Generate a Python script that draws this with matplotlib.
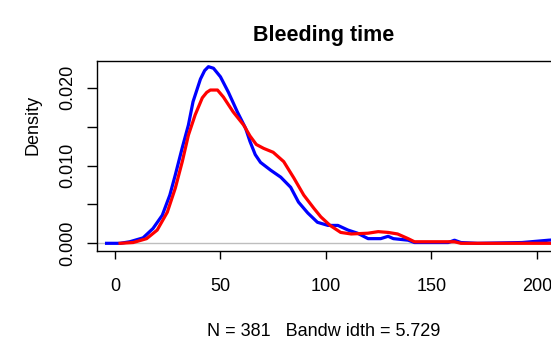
import matplotlib
matplotlib.use("Agg")
import matplotlib.pyplot as plt

# density estimates
blue_x = [-4, 2.4, 7, 13.3, 18, 22.4, 26, 28.6, 31.9, 34.8, 37, 40.5, 42.5, 44.3,
          46.7, 50, 53.8, 58, 61.9, 64, 66.5, 69, 73.8, 78.6, 83.3, 87, 91.4, 96,
          101, 105.7, 110.5, 115, 120, 126, 129.5, 132, 139, 142, 158, 161, 164,
          172, 193, 205.7, 212]
blue_y = [0, 0, 0.0002, 0.0007, 0.0019, 0.0036, 0.0062, 0.0088, 0.0123, 0.0152,
          0.0182, 0.0211, 0.0222, 0.0227, 0.0225, 0.0214, 0.0194, 0.0169, 0.0148,
          0.0131, 0.0114, 0.0104, 0.0094, 0.0085, 0.0072, 0.0053, 0.0039, 0.0027,
          0.0023, 0.0023, 0.0017, 0.0013, 0.0006, 0.0006, 0.0009, 0.0006, 0.0004,
          0.0001, 0.0001, 0.0004, 0.0001, 0.0, 0.0001, 0.0004, 0.0005]

red_x = [2.4, 8.6, 15, 20, 24.8, 28.6, 31.9, 34.8, 38, 41.4, 43.5, 45.2, 48.6,
         51.4, 56, 61, 64, 67, 70.5, 75, 80, 84.8, 89.5, 94.3, 97.6, 102, 107,
         112, 120, 124.8, 129.5, 134, 139, 142, 161, 164, 215]
red_y = [0, 0.0001, 0.0006, 0.0017, 0.004, 0.0071, 0.0105, 0.0139, 0.0165, 0.0187,
         0.0194, 0.0197, 0.0197, 0.0188, 0.0169, 0.0152, 0.0138, 0.0127, 0.0122,
         0.0117, 0.0105, 0.0084, 0.0062, 0.0045, 0.0034, 0.0023, 0.0014, 0.0012,
         0.0013, 0.0015, 0.0014, 0.0012, 0.0006, 0.0002, 0.0002, 0.0, 0.0]

x_ticks = [0, 50, 100, 150, 200]
y_ticks = [0.000, 0.005, 0.010, 0.015, 0.020]
y_labels = ["0.000", "", "0.010", "", "0.020"]

plt.rcParams['font.family'] = ['Liberation Sans', 'DejaVu Sans']
plt.rcParams['font.size'] = 13

W, H = 551, 343
fig = plt.figure(figsize=(W / 100, H / 100), dpi=100)
l, r, t, b = 97, 553, 60.7, 250.7
ax = fig.add_axes([l / W, 1 - b / H, (r - l) / W, (b - t) / H])

ax.axhline(0, color='#bebebe', lw=1, zorder=1)
ax.plot(blue_x, blue_y, color='#0000ff', lw=2.3, zorder=2)
ax.plot(red_x, red_y, color='#ff0000', lw=2.3, zorder=3)

ax.set_xlim(-8.54, 207.7)
ax.set_ylim(-0.00095, 0.02347)
ax.set_xticks(x_ticks)
ax.set_yticks(y_ticks)
ax.set_yticklabels(y_labels, rotation=90, va='center')
ax.tick_params(axis='x', length=6, width=1, pad=14)
ax.tick_params(axis='y', length=7, width=1, pad=8)
for s in ax.spines.values():
    s.set_linewidth(1)

fig.text(324 / W, 1 - 36 / H, "Bleeding time", ha='center', va='center',
         fontsize=15.5, fontweight='bold')
fig.text(324 / W, 1 - 331 / H, "N = 381   Bandw idth = 5.729", ha='center',
         va='center')
fig.text(33 / W, 1 - 125 / H, "Density", ha='center', va='center', rotation=90)

fig.savefig("out.png", dpi=100)
